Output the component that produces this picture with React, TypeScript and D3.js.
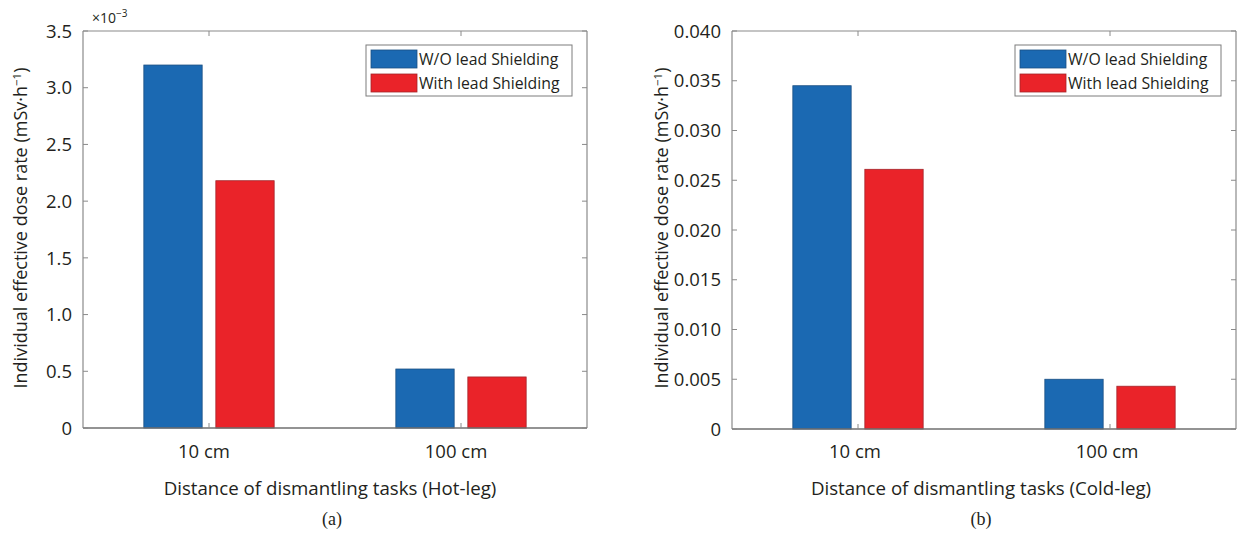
import React from "react";
import * as d3 from "d3";

// Dismantling-task dose rates (mSv·h⁻¹), two shielding cases per distance
const categories = ["10 cm", "100 cm"];
const seriesNames = ["W/O lead Shielding", "With lead Shielding"];

const hotLegWithout = [3.2e-3, 0.52e-3];
const hotLegWith = [2.18e-3, 0.45e-3];
const hotLegTicks = [0, 0.5e-3, 1.0e-3, 1.5e-3, 2.0e-3, 2.5e-3, 3.0e-3, 3.5e-3];

const coldLegWithout = [0.0345, 0.005];
const coldLegWith = [0.0261, 0.0043];
const coldLegTicks = [0, 0.005, 0.01, 0.015, 0.02, 0.025, 0.03, 0.035, 0.04];

const seriesColors = ["#1b69b2", "#ea2329"];
const seriesEdges = ["#1a4f82", "#a3252a"];

const FONT = "'Open Sans', 'Noto Sans', sans-serif";
const AXIS = "#8a8a8a";
const TEXT = "#231f20";

type PanelProps = {
  left: number;
  right: number;
  top: number;
  bottom: number;
  series: number[][];
  ticks: number[];
  yMax: number;
  tickFormat: (v: number) => string;
  xTitle: string;
  panelTag: string;
  exponent?: string;
  yTitleX: number;
  labelShift: number;
};

function Panel(p: PanelProps) {
  const x = d3.scaleLinear().domain([0.5, 2.5]).range([p.left, p.right]);
  const y = d3.scaleLinear().domain([0, p.yMax]).range([p.bottom, p.top]);
  const nSeries = p.series.length;
  const groupWidth = Math.min(0.8, nSeries / (nSeries + 1.5));
  const barWidth = (groupWidth / nSeries) * 0.81;
  const unit = x(1) - x(0);
  const tickLen = 5;
  const midX = (p.left + p.right) / 2;
  const legendX = p.right - 221;
  const legendY = 45;

  return (
    <g>
      {/* bars */}
      {categories.map((c, ci) =>
        p.series.map((vals, si) => {
          const center = ci + 1 - groupWidth / 2 + (groupWidth / nSeries) * (si + 0.5);
          const x0 = x(center - barWidth / 2);
          return (
            <rect
              key={c + si}
              x={x0}
              y={y(vals[ci])}
              width={barWidth * unit}
              height={y(0) - y(vals[ci])}
              fill={seriesColors[si]}
              stroke={seriesEdges[si]}
              strokeWidth={0.8}
            />
          );
        })
      )}

      {/* axes box */}
      <line x1={p.left} x2={p.right} y1={p.top} y2={p.top} stroke={AXIS} strokeWidth={1.2} />
      <line x1={p.right} x2={p.right} y1={p.top} y2={p.bottom} stroke={AXIS} strokeWidth={1.2} />
      <line x1={p.left} x2={p.left} y1={p.top} y2={p.bottom} stroke={AXIS} strokeWidth={1.2} />
      <line x1={p.left} x2={p.right} y1={p.bottom} y2={p.bottom} stroke="#6f6f6f" strokeWidth={1.4} />

      {/* y ticks */}
      {p.ticks.map((t) => (
        <g key={t}>
          <line x1={p.left} x2={p.left + tickLen} y1={y(t)} y2={y(t)} stroke={AXIS} />
          <line x1={p.right} x2={p.right - tickLen} y1={y(t)} y2={y(t)} stroke={AXIS} />
          <text
            x={p.left - 11}
            y={y(t)}
            dy="0.36em"
            textAnchor="end"
            fontFamily={FONT}
            fontSize={18.5}
            fill={TEXT}
          >
            {p.tickFormat(t)}
          </text>
        </g>
      ))}

      {/* x ticks and labels */}
      {categories.map((c, ci) => (
        <g key={c}>
          <line x1={x(ci + 1)} x2={x(ci + 1)} y1={p.bottom} y2={p.bottom - tickLen} stroke={AXIS} />
          <line x1={x(ci + 1)} x2={x(ci + 1)} y1={p.top} y2={p.top + tickLen} stroke={AXIS} />
          <text
            x={x(ci + 1) + p.labelShift}
            y={458}
            textAnchor="middle"
            fontFamily={FONT}
            fontSize={18.5}
            fill={TEXT}
          >
            {c}
          </text>
        </g>
      ))}

      {/* exponent marker */}
      {p.exponent && (
        <text x={p.left + 9} y={23} fontFamily={FONT} fontSize={14} fill={TEXT}>
          ×10
          <tspan dy={-6} fontSize={10}>
            {p.exponent}
          </tspan>
        </text>
      )}

      {/* axis titles */}
      <text
        x={midX + p.labelShift}
        y={495}
        textAnchor="middle"
        fontFamily={FONT}
        fontSize={18.7}
        fill={TEXT}
      >
        {p.xTitle}
      </text>
      <text
        transform={`translate(${p.yTitleX},228) rotate(-90)`}
        textAnchor="middle"
        fontFamily={FONT}
        fontSize={18}
        fill={TEXT}
      >
        Individual effective dose rate (mSv·h
        <tspan dy={-6} fontSize={11.5}>
          −1
        </tspan>
        <tspan dy={6}>)</tspan>
      </text>
      <text
        x={midX - 3}
        y={525}
        textAnchor="middle"
        fontFamily="'Liberation Serif', 'Times New Roman', serif"
        fontSize={18}
        fill={TEXT}
      >
        {p.panelTag}
      </text>

      {/* legend */}
      <rect x={legendX} y={legendY} width={206} height={51} fill="#fff" stroke="#7d7d7d" strokeWidth={1} />
      {seriesNames.map((name, si) => (
        <g key={name}>
          <rect
            x={legendX + 5}
            y={legendY + 5 + si * 24}
            width={46}
            height={18}
            fill={seriesColors[si]}
            stroke={seriesEdges[si]}
            strokeWidth={0.8}
          />
          <text
            x={legendX + 53}
            y={legendY + 14 + si * 24}
            dy="0.36em"
            fontFamily={FONT}
            fontSize={15.8}
            fill={TEXT}
          >
            {name}
          </text>
        </g>
      ))}
    </g>
  );
}

export default function App() {
  const hotFormat = (v: number) => (v === 0 ? "0" : (v / 1e-3).toFixed(1));
  const coldFormat = (v: number) => (v === 0 ? "0" : v.toFixed(3));
  return (
    <div style={{ position: "absolute", left: 0, top: 0 }}>
      <svg width={1238} height={534} style={{ display: "block", background: "#fff" }}>
        <Panel
          left={83}
          right={587}
          top={31}
          bottom={428}
          series={[hotLegWithout, hotLegWith]}
          ticks={hotLegTicks}
          yMax={3.5e-3}
          tickFormat={hotFormat}
          xTitle="Distance of dismantling tasks (Hot-leg)"
          panelTag="(a)"
          exponent="−3"
          yTitleX={27}
          labelShift={-5}
        />
        <Panel
          left={732}
          right={1236}
          top={31}
          bottom={429}
          series={[coldLegWithout, coldLegWith]}
          ticks={coldLegTicks}
          yMax={0.04}
          tickFormat={coldFormat}
          xTitle="Distance of dismantling tasks (Cold-leg)"
          panelTag="(b)"
          yTitleX={668}
          labelShift={-3}
        />
      </svg>
    </div>
  );
}
